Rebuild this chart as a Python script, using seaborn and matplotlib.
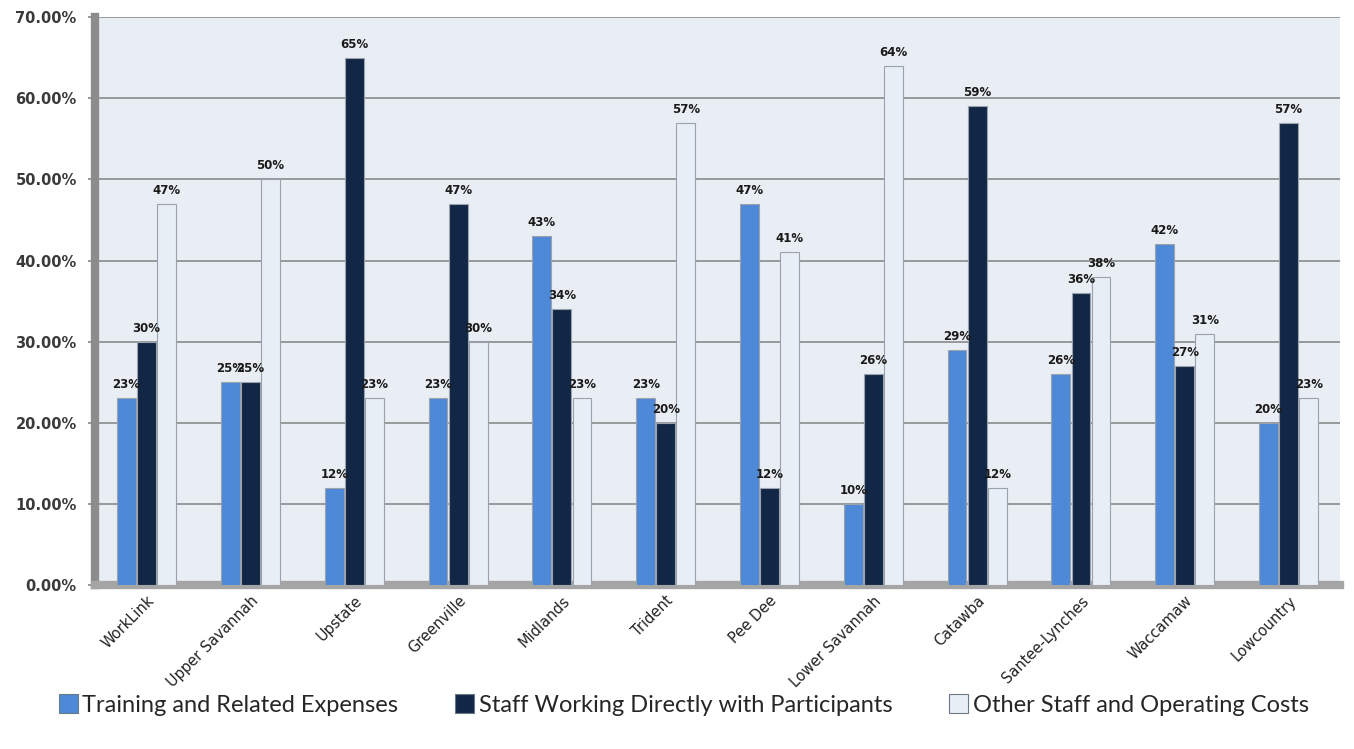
import matplotlib
matplotlib.use("Agg")
import matplotlib.pyplot as plt
import seaborn as sns
import pandas as pd
from matplotlib.ticker import FuncFormatter, MultipleLocator
from matplotlib.patches import Patch

regions = ["WorkLink", "Upper Savannah", "Upstate", "Greenville", "Midlands", "Trident",
           "Pee Dee", "Lower Savannah", "Catawba", "Santee-Lynches", "Waccamaw", "Lowcountry"]
training = [23, 25, 12, 23, 43, 23, 47, 10, 29, 26, 42, 20]
staff_direct = [30, 25, 65, 47, 34, 20, 12, 26, 59, 36, 27, 57]
other_staff = [47, 50, 23, 30, 23, 57, 41, 64, 12, 38, 31, 23]
series_names = ["Training and Related Expenses", "Staff Working Directly with Participants",
                "Other Staff and Operating Costs"]
colors = ["#4d89d6", "#112745", "#e8eef6"]

rows = []
for name, vals in zip(series_names, [training, staff_direct, other_staff]):
    for r, v in zip(regions, vals):
        rows.append({"Region": r, "Series": name, "Value": v})
df = pd.DataFrame(rows)

sns.set_theme(style="white")
plt.rcParams['font.family'] = ['DejaVu Sans']

fig = plt.figure(figsize=(13.54, 7.49), dpi=100)
ax = fig.add_axes([0.07, 0.219, 0.92, 0.758])
ax.set_facecolor("#e9eef4")

sns.barplot(data=df, x="Region", y="Value", hue="Series", hue_order=series_names,
            order=regions, palette=colors, saturation=1, width=0.58, gap=0.06, ax=ax,
            legend=False, edgecolor="#9aa3ad", linewidth=0.8, zorder=3)

for cont in ax.containers:
    ax.bar_label(cont, labels=[f"{int(round(v))}%" for v in cont.datavalues],
                 padding=5, fontsize=8.5, fontweight="bold", color="#1a1a1a", zorder=5)

ax.set_ylim(0, 70)
ax.set_xlim(-0.5, len(regions) - 0.5)
ax.yaxis.set_major_locator(MultipleLocator(10))
ax.yaxis.set_major_formatter(FuncFormatter(lambda v, p: f"{v:.2f}%"))
ax.grid(axis="y", color="#8a8a8a", linewidth=1.2, zorder=0)
ax.set_axisbelow(True)
ax.set_xlabel("")
ax.set_ylabel("")

for s in ["top", "right"]:
    ax.spines[s].set_visible(False)
ax.spines["left"].set_color("#8c8c8c")
ax.spines["left"].set_linewidth(6)
ax.spines["bottom"].set_color("#a5a5a5")
ax.spines["bottom"].set_linewidth(6)

ax.tick_params(axis="y", labelsize=10.5, labelcolor="#3a3a3a", length=5, color="#8c8c8c",
               left=True, pad=8)
for t in ax.get_yticklabels():
    t.set_fontweight("bold")
ax.tick_params(axis="x", labelsize=10.5, labelcolor="#222222", length=0, pad=6)
plt.setp(ax.get_xticklabels(), rotation=45, ha="right", rotation_mode="anchor")

handles = [Patch(facecolor=c, edgecolor="#6d7885", linewidth=0.8) for c in colors]
fig.legend(handles, series_names, loc="center", bbox_to_anchor=(0.505, 0.059), ncol=3,
           frameon=False, handlelength=0.8, handleheight=0.9,
           handletextpad=0.2, columnspacing=2.4, prop={"family": "Lato", "size": 17})

fig.savefig("out.png", dpi=100)
